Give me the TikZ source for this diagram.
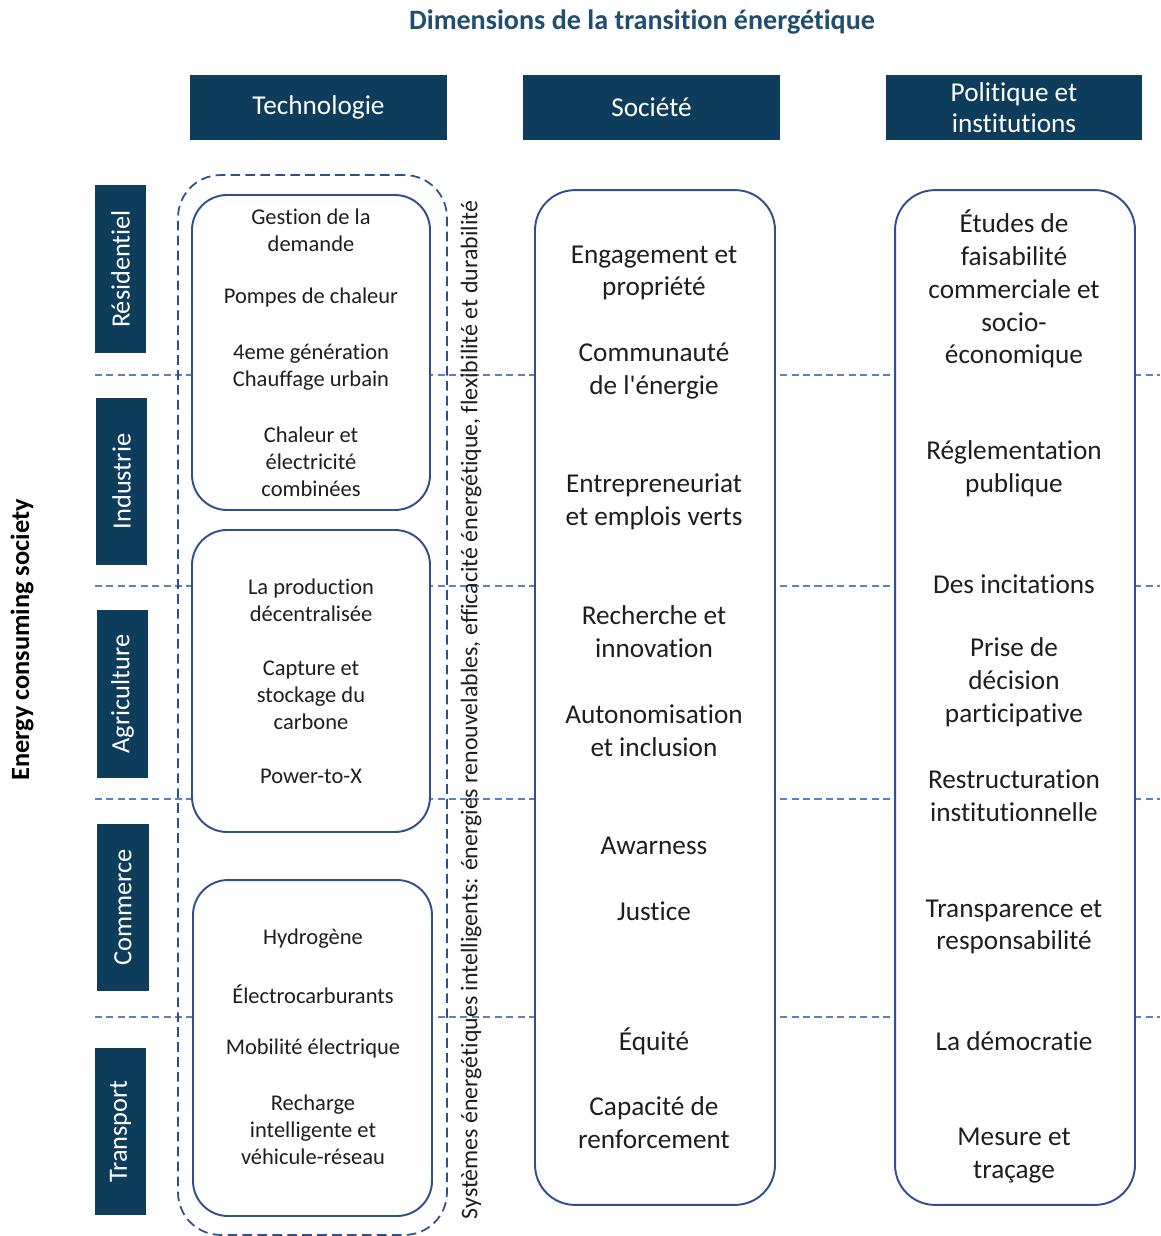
\documentclass[tikz,border=0pt]{standalone}
\usepackage{fontspec}
\setmainfont{Carlito}[Ligatures={NoCommon,NoContextual},Contextuals=NoAlternate]
\definecolor{navy}{HTML}{0E3D5C}
\definecolor{titleblue}{HTML}{1F4E6E}
\definecolor{boxblue}{HTML}{2F4F8F}
\definecolor{lineblue}{HTML}{5A80C8}
\definecolor{txt}{HTML}{1E1E1E}
\begin{document}
\begin{tikzpicture}[x=0.02cm,y=-0.02cm,
    head/.style={fill=navy,text=white,inner sep=2pt,minimum width=5.14cm,minimum height=1.3cm,align=center,font=\fontsize{15.5}{18}\selectfont},
    sector/.style={fill=navy,text=white,rotate=90,inner sep=0pt,minimum width=3.36cm,minimum height=1.04cm,font=\fontsize{15}{18}\selectfont},
    techbox/.style={draw=boxblue,line width=1.1pt,fill=white,rounded corners=0.7cm,minimum width=4.76cm},
    colbox/.style={draw=boxblue,line width=1.1pt,fill=white,rounded corners=0.8cm,minimum width=4.8cm,minimum height=20.3cm},
    titem/.style={text=txt,align=center,font=\fontsize{12.8}{15.3}\selectfont},
    citem/.style={text=txt,align=center,font=\fontsize{15.5}{18.7}\selectfont},
    sep/.style={draw=lineblue,dash pattern=on 4pt off 2.5pt,line width=0.6pt}]
      \useasboundingbox (0,0) rectangle (1160,1236);%

      \node[text=titleblue,font=\bfseries\fontsize{16}{19}\selectfont] (T) at (642,22) {Dimensions de la transition énergétique};%

      \node[head] (HT) at (318.5,107.5) {Technologie};%
      \node[head] (HS) at (651.5,107.5) {Société};%
      \node[head] (HP) at (1014,107.5) {Politique et\\institutions};%

      % sector boundaries
      \coordinate (L1) at (95,375);%
      \coordinate (R1) at (1160,375);%
      \coordinate (L2) at (95,586);%
      \coordinate (R2) at (1160,586);%
      \coordinate (L3) at (95,799);%
      \coordinate (R3) at (1160,799);%
      \coordinate (L4) at (95,1017);%
      \coordinate (R4) at (1160,1017);%
      \draw[sep] (L1) -- (R1);%
      \draw[sep] (L2) -- (R2);%
      \draw[sep] (L3) -- (R3);%
      \draw[sep] (L4) -- (R4);%

      \node[sector] (S1) at (120.5,269) {Résidentiel};%
      \node[sector] (S2) at (121.5,481.5) {Industrie};%
      \node[sector] (S3) at (122.5,694) {Agriculture};%
      \node[sector] (S4) at (123,907.5) {Commerce};%
      \node[sector] (S5) at (120.5,1131.5) {Transport};%

      \node[rotate=90,text=black,font=\bfseries\fontsize{15}{18}\selectfont] (E) at (22,640) {Energy consuming society};%

      % technology column
      \node[draw=boxblue,dash pattern=on 5.5pt off 3pt,line width=1pt,rounded corners=0.85cm,minimum width=5.38cm,minimum height=21.2cm] (TD) at (312.5,705) {};%
      \node[techbox,minimum height=6.3cm] (TB1) at (311,352.5) {};%
      \node[techbox,minimum height=6.04cm] (TB2) at (311,681) {};%
      \node[techbox,minimum width=4.78cm,minimum height=6.72cm] (TB3) at (312.5,1048) {};%

      \node[rotate=90,text=txt,font=\fontsize{13.6}{16}\selectfont] (SM) at (471,710) {Systèmes énergétiques intelligents: énergies renouvelables, efficacité énergétique, flexibilité et durabilité};%

      \node[titem] (T1) at (311,230) {Gestion de la\\demande};%
      \node[titem] (T2) at (311,298) {Pompes de chaleur};%
      \node[titem] (T3) at (311,367) {4eme génération\\Chauffage urbain};%
      \node[titem] (T4) at (311,462) {Chaleur et\\électricité\\combinées};%
      \node[titem] (T5) at (311,600) {La production\\décentralisée};%
      \node[titem] (T6) at (311,695) {Capture et\\stockage du\\carbone};%
      \node[titem] (T7) at (311,776) {Power-to-X};%
      \node[titem] (T8) at (313,939) {Hydrogène};%
      \node[titem] (T9) at (313,994) {Électrocarburants};%
      \node[titem] (T10) at (313,1048) {Mobilité électrique};%
      \node[titem] (T11) at (313,1130) {Recharge\\intelligente et\\véhicule-réseau};%

      % society column
      \node[colbox] (CS) at (655,697.5) {};%
      \node[citem] (C1) at (654,273) {Engagement et\\propriété};%
      \node[citem] (C2) at (654,371) {Communauté\\de l\textquotesingle énergie};%
      \node[citem] (C3) at (654,502) {Entrepreneuriat\\et emplois verts};%
      \node[citem] (C4) at (654,632) {Recherche et\\innovation};%
      \node[citem] (C5) at (654,731) {Autonomisation\\et inclusion};%
      \node[citem] (C6) at (654,846) {Awarness};%
      \node[citem] (C7) at (654,911) {Justice};%
      \node[citem] (C8) at (654,1041) {Équité};%
      \node[citem] (C9) at (654,1123) {Capacité de\\renforcement};%

      % policy column
      \node[colbox] (CP) at (1015,697.5) {};%
      \node[citem] (P1) at (1014,289) {Études de\\faisabilité\\commerciale et\\socio-\\économique};%
      \node[citem] (P2) at (1014,469) {Réglementation\\publique};%
      \node[citem] (P3) at (1014,584) {Des incitations};%
      \node[citem] (P4) at (1014,682) {Prise de\\décision\\participative};%
      \node[citem] (P5) at (1014,796) {Restructuration\\institutionnelle};%
      \node[citem] (P6) at (1014,927) {Transparence et\\responsabilité};%
      \node[citem] (P7) at (1014,1041) {La démocratie};%
      \node[citem] (P8) at (1014,1156) {Mesure et\\traçage};%
    \end{tikzpicture}
\end{document}
